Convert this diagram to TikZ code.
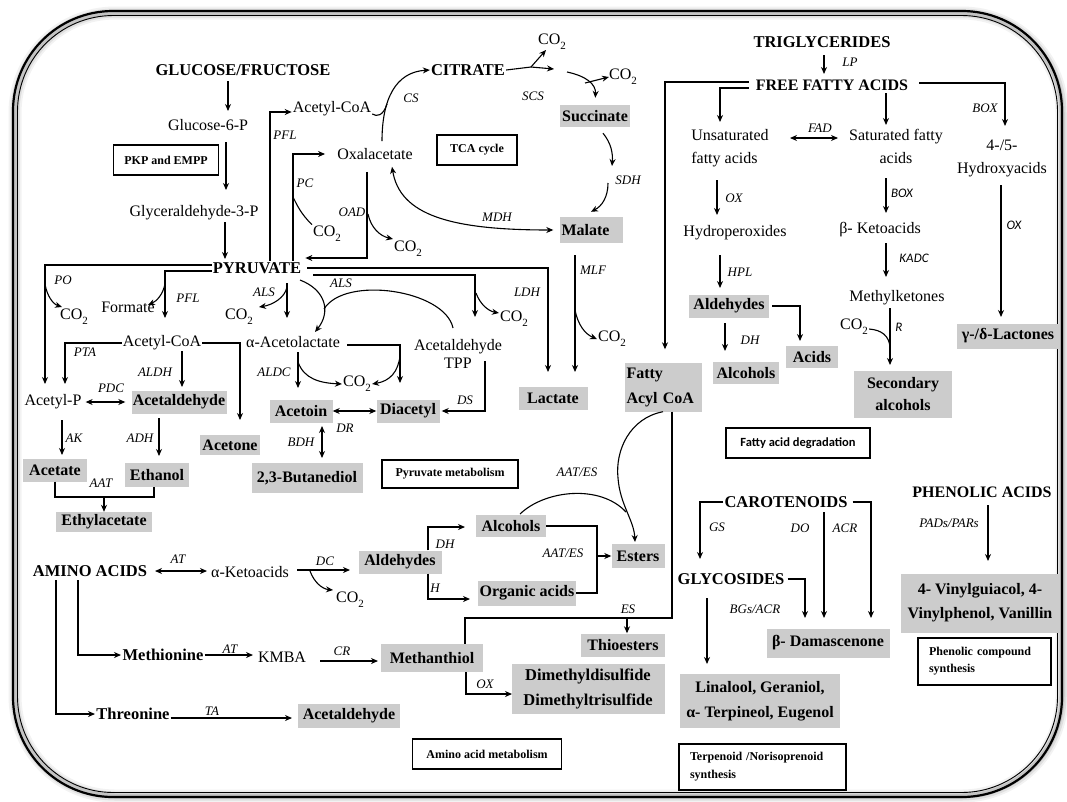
\documentclass[tikz,border=0pt]{standalone}
\usepackage{fontspec}
\setmainfont{Liberation Serif}[BoldFont={Liberation Serif Bold}, ItalicFont={Liberation Serif Italic}, BoldItalicFont={Liberation Serif Bold Italic}]
\newfontfamily\carlito{Carlito}
\usetikzlibrary{arrows.meta}
\newcommand\cotwo{CO\raisebox{-0.3em}{\fontsize{11}{11}\selectfont 2}}
\begin{document}
\begin{tikzpicture}[x=1pt,y=-1pt,
  every node/.style={inner sep=1pt},
  txt/.style={font=\fontsize{16}{23}\selectfont, align=center},
  bld/.style={font=\bfseries\fontsize{16.5}{20}\selectfont},
  gbox/.style={fill=black!20, font=\bfseries\fontsize{16}{24}\selectfont, inner sep=0pt, align=center},
  gb/.style 2 args={gbox, minimum width=#1pt, minimum height=#2pt},
  tag/.style={draw, line width=1.1pt, font=\bfseries\fontsize{12}{18}\selectfont, inner sep=0pt},
  tg/.style 2 args={tag, minimum width=#1pt, minimum height=#2pt},
  enz/.style={font=\itshape\fontsize{13}{14}\selectfont, inner sep=0pt},
  enzs/.style={font=\carlito\itshape\fontsize{13}{14}\selectfont, inner sep=0pt},
  ar/.style={line width=1.1pt, -{Stealth[length=7pt,width=6pt]}},
  dar/.style={line width=1.1pt, {Stealth[length=7pt,width=6pt]}-{Stealth[length=7pt,width=6pt]}},
  ln/.style={line width=1.1pt},
]
% ---------- page and rounded double frame with soft shadow
\useasboundingbox (0,0) rectangle (1067,801);
\fill[white] (0,0) rectangle (1067,801);
\foreach \w/\o in {13/0.05,9/0.08,5/0.12}
  \draw[line width=\w pt, opacity=\o, rounded corners=100pt] (15,13) rectangle (1062,796);
\draw[line width=2.2pt, rounded corners=100pt] (13,11) rectangle (1062,797);
\draw[line width=0.9pt, rounded corners=96pt] (17.5,15.5) rectangle (1057.5,792.5);

% ---------- glycolysis
\node[bld] (gluc) at (243,70) {GLUCOSE/FRUCTOSE};
\node[txt] (g6p) at (208,125) {Glucose-6-P};
\node[tg={105}{30}] (pkp) at (166,160) {PKP and EMPP};
\node[txt] (g3p) at (194,213) {Glyceraldehyde-3-P};
\node[bld] (pyr) at (257,268) {PYRUVATE};
\draw[ar] (228,81) -- (228,111);
\draw[ar] (226,142) -- (226,190);
\draw[ar] (225,222) -- (225,259);

% ---------- TCA cycle
\node[txt] (acoaT) at (332,109) {Acetyl-CoA};
\node[txt] (oxa) at (375,154) {Oxalacetate};
\node[bld] (cit) at (468,70) {CITRATE};
\node[tg={80}{30}] (tca) at (477,150) {TCA cycle};
\node[txt] (co2a) at (552,42) {\cotwo};
\node[txt] (co2b) at (623,77) {\cotwo};
\node[gb={70}{22}] (succ) at (595,116) {Succinate};
\node[gb={63}{26}, text width=59pt, align=left] (mal) at (591,230) {Malate};
\node[txt] (co2pc) at (327,233.5) {\cotwo};
\node[txt] (co2oad) at (408,249) {\cotwo};
\node[enz] (lPFLa) at (285,135) {PFL};
\node[enz] (lCS) at (411,98) {CS};
\node[enz] (lPC) at (305,183) {PC};
\node[enz] (lOAD) at (352,212) {OAD};
\node[enz] (lMDH) at (497,217) {MDH};
\node[enz] (lSCS) at (533,96) {SCS};
\node[enz] (lSDH) at (628,180) {SDH};

\draw[ar] ([xshift=13pt]pyr.north) |- ([yshift=-3pt]acoaT.west);
\draw[ar, shorten >=11pt] ([xshift=36pt]pyr.north) |- (oxa.west);
\draw[ln] (co2pc.north west) .. controls (301,214) and (297,205) .. (293,197);
\draw[ar] ([xshift=-8pt]oxa.south) ++(0,11) |- ([xshift=3pt,yshift=10pt]pyr.east);
\draw[ar] (368,214) .. controls (371,228) and (380,236) .. (393,239);
\draw[ar] ([xshift=7pt,yshift=6pt]oxa.north) .. controls (382,100) and (395,72) .. (cit.west);
\draw[ln] ([yshift=-5pt]acoaT.east) .. controls (377,117) and (383,116) .. (387,104);
\draw[dar] ([xshift=17pt,yshift=-6pt]oxa.south) .. controls (400,215) and (450,230) .. ([xshift=-6pt]mal.west);
\draw[ln] (cit.east) -- (531,67);
\draw[ar] (531,67) -- (554,69);
\draw[ar] (531,67) -- (546,50);
\draw[ar, shorten >=7pt] (567,72) .. controls (586,76) and (596,84) .. (succ.north);
\draw[ar] (585,83) -- ([xshift=1pt]co2b.west);
\draw[ar] ([xshift=8pt,yshift=-6pt]succ.south) .. controls (611,143) and (613,153) .. (612,166);
\draw[ar] (608,183) .. controls (608,197) and (602,206) .. ([yshift=5pt]mal.north);

% ---------- acetate / ethanol branch
\node[txt] (co2po) at (74,317) {\cotwo};
\node[txt] (formate) at (128,307) {Formate};
\node[txt] (acoa2) at (162,343) {Acetyl-CoA};
\node[txt] (acp) at (53,402) {Acetyl-P};
\node[gb={95}{23}] (acald) at (179,402) {Acetaldehyde};
\node[gb={60}{20}] (acetone) at (230,445) {Acetone};
\node[gb={64}{23}] (acetate) at (55,470) {Acetate};
\node[gb={64}{24}] (ethanol) at (157,475) {Ethanol};
\node[gb={96}{20}] (ethylac) at (104,522) {Ethylacetate};
\node[enz] (lPO) at (63,280) {PO};
\node[enz] (lPFLb) at (188,298) {PFL};
\node[enz] (lPTA) at (85,352) {PTA};
\node[enz] (lALDH) at (155,372) {ALDH};
\node[enz] (lPDC) at (111,388) {PDC};
\node[enz] (lAK) at (74,438) {AK};
\node[enz] (lADH) at (140,438) {ADH};
\node[enz] (lAAT) at (101,483) {AAT};

\draw[ar] ([yshift=3pt]pyr.west) -| (45,384);
\draw[ar] (45,284) .. controls (47,296) and (53,304) .. (62,307);
\draw[ar] ([yshift=-3pt]pyr.west) -| (165,318);
\draw[ar] (165,284) .. controls (163,294) and (157,301) .. (148,305);
\draw[ar] (acoa2.west) -| (65,384);
\draw[ar] (182,351) -- (182,387);
\draw[ar] (acoa2.east) -| (240,420);
\draw[dar] ([xshift=3pt]acp.east) -- ([xshift=-6pt]acald.west);
\draw[ar] (62,420) -- (62,455);
\draw[ar] (159,418) -- (159,456);
\draw[ln] (acetate.south) |- (104,497) -| ([xshift=-3pt]ethanol.south);
\draw[ar] (104,497) -- (ethylac.north);

% ---------- acetoin / diacetyl branch, lactate
\node[txt] (co2als) at (239,317) {\cotwo};
\node[txt] (aal) at (293,342) {α-Acetolactate};
\node[txt, font=\fontsize{16}{18}\selectfont] (acetpp) at (458,354) {Acetaldehyde\\TPP};
\node[txt] (co2ldh) at (514,319) {\cotwo};
\node[txt] (co2aldc) at (357,384) {\cotwo};
\node[gb={63}{23}] (acetoin) at (301,411) {Acetoin};
\node[gb={63}{23}] (diac) at (408,411) {Diacetyl};
\node[gb={111}{30}] (butd) at (307,478) {2,3-Butanediol};
\node[tg={136}{28}] (pyrmet) at (450,474) {Pyruvate metabolism};
\node[gb={69}{23}] (lac) at (553,398) {Lactate};
\node[txt] (co2mlf) at (612,339) {\cotwo};
\node[enz] (lALSa) at (264,292) {ALS};
\node[enz] (lALSb) at (341,283) {ALS};
\node[enz] (lALDC) at (274,372) {ALDC};
\node[enz] (lDS) at (465,400) {DS};
\node[enz] (lDR) at (345,428) {DR};
\node[enz] (lBDH) at (301,442) {BDH};
\node[enz] (lLDH) at (527,292) {LDH};
\node[enz] (lMLF) at (593,270) {MLF};

\draw[ar] (287,283) -- (287,318);
\draw[ar] (287,287) .. controls (285,298) and (272,305) .. (259,307);
\draw[ar] (300,280) .. controls (326,290) and (331,312) .. (315,332);
\draw[ln] (453,328) .. controls (445,290) and (345,275) .. (324,309);
\draw[ar] ([xshift=6pt,yshift=-3pt]aal.east) -| (400,383);
\draw[ar] (298,352) -- (298,388);
\draw[ar] (298,362) .. controls (304,379) and (320,383) .. (co2aldc.west);
\draw[ar] (400,356) .. controls (398,372) and (390,381) .. (co2aldc.east);
\draw[ar] (485,361) |- ([xshift=2pt]diac.east);
\draw[dar] (acetoin.east) -- (diac.west);
\draw[dar] (322,426) -- (322,458);
\draw[ar, shorten <=5pt] (pyr.east) -| (548,372);
\draw[ar] (313,275) -| (475,317);
\draw[ar] (476,293) .. controls (480,304) and (488,311) .. (499,313);
\draw[ar] (575,255) -- (575,372);
\draw[ar] (575,310) .. controls (578,325) and (585,334) .. (co2mlf.west);

% ---------- fatty acid degradation
\node[bld] (trig) at (822,42) {TRIGLYCERIDES};
\node[bld, font=\bfseries\fontsize{16}{20}\selectfont] (ffa) at (832,85) {FREE FATTY ACIDS};
\node[txt, align=left] (unsat) at (730,148) {Unsaturated\\fatty acids};
\node[txt] (sat) at (896,146) {Saturated fatty\\acids};
\node[txt] (hyd) at (1002,158) {4-/5-\\Hydroxyacids};
\node[txt] (hperox) at (735,233) {Hydroperoxides};
\node[txt] (keto) at (880,230) {β- Ketoacids};
\node[txt] (mketo) at (897,298) {Methylketones};
\node[txt] (co2r) at (854,327) {\cotwo};
\node[gb={80}{23}] (ald2) at (729,306) {Aldehydes};
\node[gb={52}{22}] (acids) at (812,357) {Acids};
\node[gb={66}{22}] (alc2) at (746,373) {Alcohols};
\node[gb={98}{47}, font=\bfseries\fontsize{16}{22}\selectfont] (secalc) at (903,394) {Secondary\\alcohols};
\node[gb={103}{25}] (lact) at (1008,336) {γ-/δ-Lactones};
\node[gb={77}{49}, align=left, text width=73pt, font=\bfseries\fontsize{16}{25}\selectfont] (facoa) at (663,387) {Fatty\\Acyl CoA};
\node[draw, line width=1.1pt, minimum width=144pt, minimum height=30pt, inner sep=0pt, font=\carlito\bfseries\fontsize{12.5}{14}\selectfont] (fadeg) at (798,443) {Fatty acid degradation};
\node[enz] (lLP) at (850,62) {LP};
\node[enz] (lFAD) at (820,128) {FAD};
\node[enz] (lBOXa) at (985,108) {BOX};
\node[enz] (lOXa) at (734,198) {OX};
\node[enz] (lHPL) at (740,272) {HPL};
\node[enz] (lDHa) at (750,340) {DH};
\node[enzs] (lBOXb) at (902,193) {BOX};
\node[enzs] (lKADC) at (914,258) {KADC};
\node[enzs] (lR) at (899,327) {R};
\node[enzs] (lOXb) at (1014,225) {OX};

\draw[ar] (824,55) -- (824,74);
\draw[ar] ([xshift=-6pt,yshift=3pt]ffa.west) -| ([xshift=2pt,yshift=13pt]facoa.north);
\draw[ar] ([xshift=-6pt,yshift=-3pt]ffa.west) -| (720,122);
\draw[ar] (886,93) -- (886,125);
\draw[ar] ([xshift=10pt,yshift=2pt]ffa.east) -| (1005,126);
\draw[dar] (790,138) -- (838,138);
\draw[ar] (717,180) -- (717,215);
\draw[ar] (720,255) -- (720,288);
\draw[ar] ([xshift=3pt]ald2.east) -| (800,341);
\draw[ar] (725,323) -- (725,351);
\draw[ar] (886,178) -- (886,213);
\draw[ar] (886,243) -- (886,277);
\draw[ar] (890,308) -- (890,365);
\draw[ln] ([yshift=-2pt]co2r.east) .. controls (882,330) and (889,336) .. (890,347);
\draw[ar] (1001,185) -- (1001,317);

% ---------- esters and amino acid metabolism
\node[gb={70}{22}] (alcb) at (511,526) {Alcohols};
\node[gb={98}{25}] (orgac) at (527,593) {Organic acids};
\node[gb={53}{24}] (esters) at (638,556) {Esters};
\node[gb={84}{23}] (thio) at (623,645) {Thioesters};
\node[gb={153}{50}, font=\bfseries\fontsize{16.5}{25}\selectfont] (dms) at (588,689) {Dimethyldisulfide\\Dimethyltrisulfide};
\node[bld] (amino) at (90,571) {AMINO ACIDS};
\node[txt] (aketo) at (250,572) {α-Ketoacids};
\node[txt] (co2dc) at (350,600) {\cotwo};
\node[gb={83}{23}] (aldb) at (400,562) {Aldehydes};
\node[bld] (meth) at (163,655) {Methionine};
\node[txt] (kmba) at (282,657) {KMBA};
\node[gb={102}{28}] (methan) at (432,658) {Methanthiol};
\node[bld] (thr) at (133,714) {Threonine};
\node[gb={102}{24}] (acaldb) at (349,716) {Acetaldehyde};
\node[tg={149}{30}] (aamet) at (487,754) {Amino acid metabolism};
\node[enz] (lAATESa) at (577,472) {AAT/ES};
\node[enz] (lAATESb) at (563,553) {AAT/ES};
\node[enz] (lES) at (628,609) {ES};
\node[enz] (lDHb) at (445,544) {DH};
\node[enz] (lH) at (435,588) {H};
\node[enz] (lATa) at (178,559) {AT};
\node[enz] (lDC) at (325,561) {DC};
\node[enz] (lATb) at (230,649) {AT};
\node[enz] (lTA) at (212,711) {TA};
\node[enz] (lCR) at (342,651) {CR};
\node[enz] (lOXc) at (485,684) {OX};

\draw[ar] (facoa.south) .. controls (630,418) and (615,450) .. (618,478) .. controls (620,505) and (634,520) .. (635,542);
\draw[ln] (520,514) .. controls (545,490) and (600,484) .. (626,512);
\draw[ln] ([xshift=9pt]facoa.south) -- (672,618) -| ([xshift=33pt]methan.north);
\draw[ar] (627,618) -- ([xshift=4pt]thio.north);
\draw[ln] (alcb.east) -| (597,593) -- (orgac.east);
\draw[ar] (597,556) -- (esters.west);
\draw[dar] (155,571) -- (207,571);
\draw[ar] (297,570) -- (350,570);
\draw[ar] (310,571) .. controls (314,582) and (322,589) .. (333,590);
\draw[ar] ([xshift=28pt]aldb.north) |- (465,527);
\draw[ar] ([xshift=28pt]aldb.south) |- (470,599);
\draw[ar] (78,580) |- (121,655);
\draw[ar] (56,580) |- (95,714);
\draw[ar] (meth.east) -- (253,655);
\draw[ar] (320,661) -- (378,661);
\draw[ar] ([xshift=34pt]methan.south) |- (512,694);
\draw[ar] ([yshift=-4pt]thr.east) -- (292,718);

% ---------- terpenoids and phenolics
\node[bld] (carot) at (786,502) {CAROTENOIDS};
\node[bld] (glyc) at (731,579) {GLYCOSIDES};
\node[gb={123}{29}] (dam) at (828,643) {β- Damascenone};
\node[gb={160}{54}, font=\bfseries\fontsize{16}{25}\selectfont] (lin) at (760,701) {Linalool, Geraniol,\\α- Terpineol, Eugenol};
\node[tag, minimum width=167pt, minimum height=46pt, text width=145pt, align=left] (terp) at (762.5,767) {Terpenoid /Norisoprenoid\\synthesis};
\node[bld, font=\bfseries\fontsize{16}{20}\selectfont] (phen) at (982,492) {PHENOLIC ACIDS};
\node[gb={159}{59}, font=\bfseries\fontsize{16}{24}\selectfont] (vinyl) at (980,603) {4- Vinylguiacol, 4-\\Vinylphenol, Vanillin};
\node[tag, minimum width=133pt, minimum height=47pt, text width=111pt, align=left, font=\bfseries\fontsize{12}{17}\selectfont] (phensyn) at (984.5,661.5) {Phenolic compound\\synthesis};
\node[enz] (lGS) at (717,527) {GS};
\node[enz] (lDO) at (800,528) {DO};
\node[enz] (lACR) at (845,528) {ACR};
\node[enz] (lBGs) at (755,609) {BGs/ACR};
\node[enz] (lPAD) at (949,523) {PADs/PARs};

\draw[ar] (carot.west) -| (700,559);
\draw[ar] (824,512) -- (824,618);
\draw[ar, shorten <=4pt] (carot.east) -| (871,618);
\draw[ar] ([xshift=2pt]glyc.east) -| (805,618);
\draw[ar] (707,598) -- (707,664);
\draw[ar] (988,505) -- (988,561);
\end{tikzpicture}
\end{document}
